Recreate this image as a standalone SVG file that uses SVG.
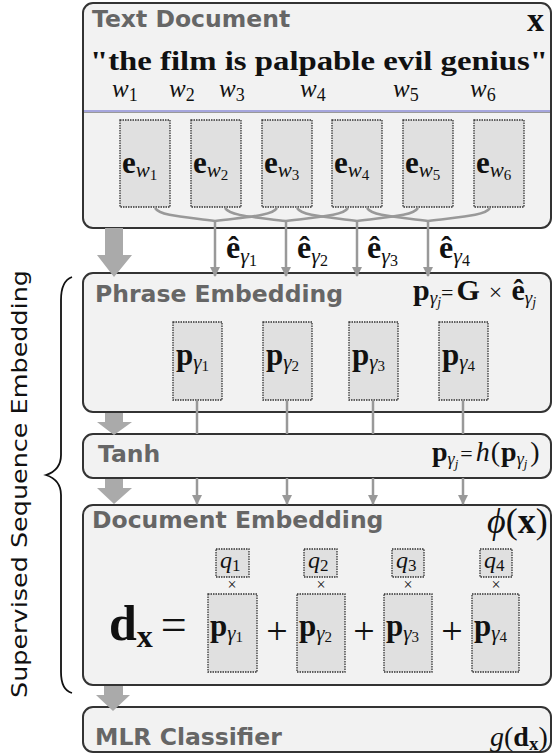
<svg xmlns="http://www.w3.org/2000/svg" width="552" height="754" viewBox="0 0 552 754">
<defs>
<style>
.box{fill:#f2f2f2;stroke:#333;stroke-width:2}
.cell{fill:#e0e0e0;stroke:#333;stroke-width:1.3;stroke-dasharray:1.5 1}
.title{font-family:"DejaVu Sans",sans-serif;font-weight:bold;fill:#666;font-size:23.5px}
.m{font-family:"Liberation Serif","DejaVu Serif",serif;fill:#111}
.b{font-weight:bold}
.i{font-style:italic}
.conn{stroke:#999;stroke-width:2.5;fill:none}
.big{fill:#aaa}
</style>
<marker id="ah" viewBox="0 0 10 10" refX="9" refY="5" markerWidth="4" markerHeight="4" orient="auto" markerUnits="strokeWidth">
<path d="M0,0 L10,5 L0,10 z" fill="#999"/>
</marker>
</defs>
<rect width="552" height="754" fill="#fff"/>

<g id="side-label">
<text transform="translate(27,484) rotate(-90)" text-anchor="middle" font-family="DejaVu Sans,sans-serif" font-size="21" fill="#111" textLength="428" lengthAdjust="spacingAndGlyphs">Supervised Sequence Embedding</text>
<path d="M72,277 Q61,281 61,300 L61,455 Q61,470 46,475 Q61,480 61,495 L61,672 Q61,690 72,693" fill="none" stroke="#111" stroke-width="1.8"/>
</g>

<g id="text-document">
<rect class="box" x="83" y="3" width="468" height="225" rx="10"/>
<text class="title" x="92" y="27">Text Document</text>
<text class="m b" x="527" y="31" font-size="34">x</text>
<text class="m b" x="90" y="70" font-size="28" textLength="458" lengthAdjust="spacingAndGlyphs">"the film is palpable evil genius"</text>
<g class="m i" font-size="25">
<text x="112" y="97">w<tspan font-style="normal" font-size="18" dy="4">1</tspan></text>
<text x="169" y="97">w<tspan font-style="normal" font-size="18" dy="4">2</tspan></text>
<text x="219" y="97">w<tspan font-style="normal" font-size="18" dy="4">3</tspan></text>
<text x="300" y="97">w<tspan font-style="normal" font-size="18" dy="4">4</tspan></text>
<text x="393" y="97">w<tspan font-style="normal" font-size="18" dy="4">5</tspan></text>
<text x="470" y="97">w<tspan font-style="normal" font-size="18" dy="4">6</tspan></text>
</g>
<line x1="84" y1="111" x2="550" y2="111" stroke="#5a5ac8" stroke-width="1"/>
<line x1="84" y1="112.5" x2="550" y2="112.5" stroke="#999" stroke-width="1"/>
</g>

<g id="word-embeddings">
<rect class="cell" x="120" y="120" width="50" height="87"/>
<rect class="cell" x="191" y="120" width="50" height="87"/>
<rect class="cell" x="262" y="120" width="50" height="87"/>
<rect class="cell" x="332" y="120" width="50" height="87"/>
<rect class="cell" x="403" y="120" width="50" height="87"/>
<rect class="cell" x="474" y="120" width="50" height="87"/>
<g class="m" font-size="31">
<text x="122" y="173"><tspan class="b">e</tspan><tspan class="i" font-size="21" dy="4">w</tspan><tspan font-size="15" dy="3">1</tspan></text>
<text x="193" y="173"><tspan class="b">e</tspan><tspan class="i" font-size="21" dy="4">w</tspan><tspan font-size="15" dy="3">2</tspan></text>
<text x="264" y="173"><tspan class="b">e</tspan><tspan class="i" font-size="21" dy="4">w</tspan><tspan font-size="15" dy="3">3</tspan></text>
<text x="334" y="173"><tspan class="b">e</tspan><tspan class="i" font-size="21" dy="4">w</tspan><tspan font-size="15" dy="3">4</tspan></text>
<text x="405" y="173"><tspan class="b">e</tspan><tspan class="i" font-size="21" dy="4">w</tspan><tspan font-size="15" dy="3">5</tspan></text>
<text x="476" y="173"><tspan class="b">e</tspan><tspan class="i" font-size="21" dy="4">w</tspan><tspan font-size="15" dy="3">6</tspan></text>
</g>
</g>

<g id="phrase-embedding">
<rect class="box" x="83" y="273" width="468" height="139" rx="10"/>
<text class="title" x="95" y="302">Phrase Embedding</text>
<text class="m" x="413" y="300" font-size="30"><tspan class="b">p</tspan><tspan class="i" font-size="19" dy="4">γ</tspan><tspan class="i" font-size="14" dy="3">j</tspan><tspan font-size="22" dy="-7">=</tspan><tspan class="b" dx="3">G</tspan><tspan font-size="24" dx="9">×</tspan><tspan class="b" dx="9">ê</tspan><tspan class="i" font-size="19" dy="4">γ</tspan><tspan class="i" font-size="14" dy="3">j</tspan></text>
<rect class="cell" x="173" y="322" width="49" height="78"/>
<rect class="cell" x="263" y="322" width="49" height="78"/>
<rect class="cell" x="349" y="322" width="49" height="78"/>
<rect class="cell" x="439" y="322" width="49" height="78"/>
<g class="m" font-size="31">
<text x="176" y="365"><tspan class="b">p</tspan><tspan class="i" font-size="21" dy="4">γ</tspan><tspan font-size="15" dy="2">1</tspan></text>
<text x="266" y="365"><tspan class="b">p</tspan><tspan class="i" font-size="21" dy="4">γ</tspan><tspan font-size="15" dy="2">2</tspan></text>
<text x="352" y="365"><tspan class="b">p</tspan><tspan class="i" font-size="21" dy="4">γ</tspan><tspan font-size="15" dy="2">3</tspan></text>
<text x="442" y="365"><tspan class="b">p</tspan><tspan class="i" font-size="21" dy="4">γ</tspan><tspan font-size="15" dy="2">4</tspan></text>
</g>
</g>

<g id="tanh">
<rect class="box" x="83" y="434" width="468" height="44" rx="10"/>
<text class="title" x="98" y="462">Tanh</text>
<text class="m" x="432" y="461" font-size="28"><tspan class="b">p</tspan><tspan class="i" font-size="18" dy="4">γ</tspan><tspan class="i" font-size="13" dy="3">j</tspan><tspan font-size="22" dx="2" dy="-7">=</tspan><tspan class="i" dx="3">h</tspan><tspan dx="1">(</tspan><tspan class="b" dx="1">p</tspan><tspan class="i" font-size="18" dy="4">γ</tspan><tspan class="i" font-size="13" dy="3">j</tspan><tspan dx="3" dy="-7">)</tspan></text>
</g>

<g id="document-embedding">
<rect class="box" x="83" y="505" width="468" height="180" rx="10"/>
<text class="title" x="92" y="528">Document Embedding</text>
<text class="m" x="487" y="533" font-size="36"><tspan class="i">ϕ</tspan><tspan>(</tspan><tspan class="b">x</tspan><tspan>)</tspan></text>
<rect class="cell" x="216" y="549" width="33" height="28"/>
<rect class="cell" x="304" y="549" width="33" height="28"/>
<rect class="cell" x="392" y="549" width="32" height="28"/>
<rect class="cell" x="480" y="549" width="32" height="28"/>
<g class="m" font-size="24">
<text x="220" y="568"><tspan class="i">q</tspan><tspan font-size="17" dy="3">1</tspan></text>
<text x="308" y="568"><tspan class="i">q</tspan><tspan font-size="17" dy="3">2</tspan></text>
<text x="396" y="568"><tspan class="i">q</tspan><tspan font-size="17" dy="3">3</tspan></text>
<text x="484" y="568"><tspan class="i">q</tspan><tspan font-size="17" dy="3">4</tspan></text>
</g>
<g class="m" font-size="16" text-anchor="middle">
<text x="232" y="590">×</text>
<text x="321" y="590">×</text>
<text x="408" y="590">×</text>
<text x="496" y="590">×</text>
</g>
<rect class="cell" x="208" y="594" width="49" height="78"/>
<rect class="cell" x="297" y="594" width="48" height="78"/>
<rect class="cell" x="384" y="594" width="48" height="78"/>
<rect class="cell" x="472" y="594" width="47" height="78"/>
<g class="m" font-size="31">
<text x="210" y="636"><tspan class="b">p</tspan><tspan class="i" font-size="21" dy="4">γ</tspan><tspan font-size="15" dy="2">1</tspan></text>
<text x="299" y="636"><tspan class="b">p</tspan><tspan class="i" font-size="21" dy="4">γ</tspan><tspan font-size="15" dy="2">2</tspan></text>
<text x="386" y="636"><tspan class="b">p</tspan><tspan class="i" font-size="21" dy="4">γ</tspan><tspan font-size="15" dy="2">3</tspan></text>
<text x="474" y="636"><tspan class="b">p</tspan><tspan class="i" font-size="21" dy="4">γ</tspan><tspan font-size="15" dy="2">4</tspan></text>
</g>
<g class="m" font-size="38" text-anchor="middle">
<text x="277" y="644">+</text>
<text x="364" y="644">+</text>
<text x="452" y="644">+</text>
</g>
<text class="m" x="109" y="640" font-size="50"><tspan class="b">d</tspan><tspan class="b" font-size="32" dy="7">x</tspan><tspan font-size="46" dx="8" dy="-7">=</tspan></text>
</g>

<g id="mlr-classifier">
<rect class="box" x="83" y="707" width="468" height="45" rx="10"/>
<text class="title" x="95" y="745">MLR Classifier</text>
<text class="m" x="490" y="746" font-size="28"><tspan class="i">g</tspan><tspan>(</tspan><tspan class="b">d</tspan><tspan class="b" font-size="19" dy="4">x</tspan><tspan dy="-4">)</tspan></text>
</g>

<g id="connectors">
<path class="conn" d="M155,208 C160,216 185,217 215,221 C245,217 272,216 277,208"/>
<path class="conn" d="M225,208 C230,216 255,217 286,221 C316,217 343,216 348,208"/>
<path class="conn" d="M297,208 C302,216 327,217 357,221 C387,217 413,216 418,208"/>
<path class="conn" d="M367,208 C372,216 398,217 428,221 C458,217 485,216 490,208"/>
<line class="conn" x1="215" y1="221" x2="215" y2="276" marker-end="url(#ah)"/>
<line class="conn" x1="286" y1="221" x2="286" y2="276" marker-end="url(#ah)"/>
<line class="conn" x1="357" y1="221" x2="357" y2="276" marker-end="url(#ah)"/>
<line class="conn" x1="428" y1="221" x2="428" y2="276" marker-end="url(#ah)"/>
<g class="m" font-size="32">
<text x="226" y="258"><tspan class="b">ê</tspan><tspan class="i" font-size="22" dy="5">γ</tspan><tspan font-size="16" dy="3">1</tspan></text>
<text x="297" y="258"><tspan class="b">ê</tspan><tspan class="i" font-size="22" dy="5">γ</tspan><tspan font-size="16" dy="3">2</tspan></text>
<text x="367" y="258"><tspan class="b">ê</tspan><tspan class="i" font-size="22" dy="5">γ</tspan><tspan font-size="16" dy="3">3</tspan></text>
<text x="439" y="258"><tspan class="b">ê</tspan><tspan class="i" font-size="22" dy="5">γ</tspan><tspan font-size="16" dy="3">4</tspan></text>
</g>
<line class="conn" x1="197" y1="400" x2="197" y2="434"/>
<line class="conn" x1="287" y1="400" x2="287" y2="434"/>
<line class="conn" x1="373" y1="400" x2="373" y2="434"/>
<line class="conn" x1="463" y1="400" x2="463" y2="434"/>
<line class="conn" x1="197" y1="478" x2="197" y2="504" marker-end="url(#ah)"/>
<line class="conn" x1="287" y1="478" x2="287" y2="504" marker-end="url(#ah)"/>
<line class="conn" x1="373" y1="478" x2="373" y2="504" marker-end="url(#ah)"/>
<line class="conn" x1="463" y1="478" x2="463" y2="504" marker-end="url(#ah)"/>
<path class="big" d="M105,228 L123,228 L123,255 L132,255 L114,277 L97,255 L105,255 z"/>
<path class="big" d="M105,413 L123,413 L123,422 L132,422 L114,435 L97,422 L105,422 z"/>
<path class="big" d="M105,479 L123,479 L123,488 L132,488 L114,504 L97,488 L105,488 z"/>
<path class="big" d="M104,686 L123,686 L123,695 L130,695 L113,711 L96,695 L104,695 z"/>
</g>
</svg>
